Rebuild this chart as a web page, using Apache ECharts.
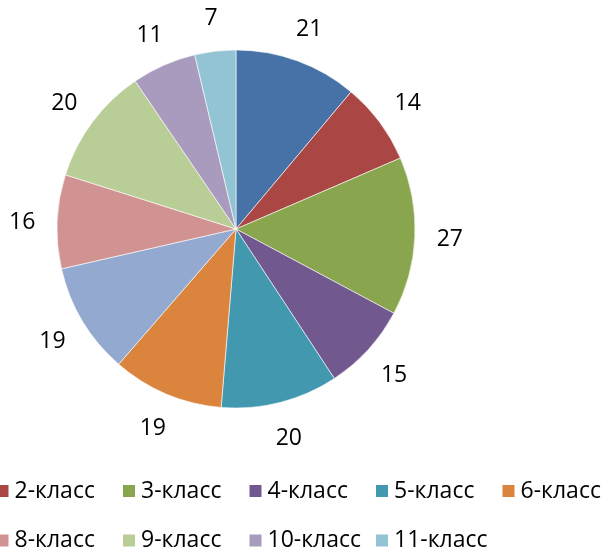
<!DOCTYPE html>
<html>
<head>
<meta charset="utf-8">
<script src="https://cdn.jsdelivr.net/npm/echarts@6/dist/echarts.min.js"></script>
<style>html,body{margin:0;padding:0;background:#fff;}#c{width:601px;height:550px;}</style>
</head>
<body>
<div id="c"></div>
<script>
const categories = ['1-класс','2-класс','3-класс','4-класс','5-класс','6-класс','7-класс','8-класс','9-класс','10-класс','11-класс'];
const values = [21, 14, 27, 15, 20, 19, 19, 16, 20, 11, 7];
const colors = ['#4672A8','#AA4643','#89A54E','#71588F','#4198AF','#DB843D','#93A9CF','#D19392','#B9CD96','#A99BBD','#93C4D4'];

const pieData = categories.map((name, i) => ({ name: name, value: values[i] }));
const FONT = '"Open Sans", sans-serif';

const chart = echarts.init(document.getElementById('c'), null, { renderer: 'canvas' });
chart.setOption({
  animation: false,
  color: colors,
  legend: {
    data: categories,
    orient: 'horizontal',
    left: -132,
    top: 472,
    width: 760,
    padding: 0,
    itemGap: 11.5,
    itemWidth: 14,
    itemHeight: 14,
    icon: 'rect',
    textStyle: { fontFamily: FONT, fontSize: 23, color: '#000', width: 95, lineHeight: 38 }
  },
  series: [
    {
      type: 'pie',
      center: [236, 229],
      radius: [0, 179],
      startAngle: 90,
      clockwise: true,
      silent: true,
      itemStyle: { borderColor: '#fff', borderWidth: 0.6 },
      label: { show: false },
      labelLine: { show: false },
      data: pieData
    },
    {
      type: 'pie',
      center: [236, 231],
      radius: [198, 224],
      startAngle: 90,
      clockwise: true,
      silent: true,
      itemStyle: { color: 'rgba(0,0,0,0)' },
      label: { show: true, position: 'inside', formatter: '{c}', color: '#000', fontFamily: FONT, fontSize: 23 },
      labelLine: { show: false },
      data: pieData
    }
  ]
});
</script>
</body>
</html>
